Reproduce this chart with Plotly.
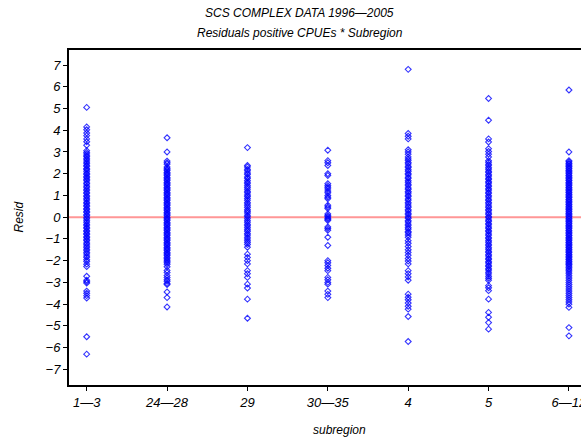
import plotly.graph_objects as go

# Subregion categories (x axis)
subregions = ["1—3", "24—28", "29", "30—35", "4", "5", "6—12"]

# Residuals of positive CPUEs for each subregion
resid_1_3 = [5.05, 4.15, 4.02, 3.87, 3.75, 3.6, 3.47, 3.31, 3.06, 2.98, 2.91, 2.83, 2.78,
             2.69, 2.63, 2.54, 2.48, 2.39, 2.34, 2.24, 2.19, 2.11, 2.02, 1.96, 1.87, 1.81,
             1.73, 1.67, 1.57, 1.53, 1.43, 1.38, 1.29, 1.23, 1.14, 1.09, 0.99, 0.94, 0.85,
             0.79, 0.69, 0.64, 0.55, 0.5, 0.4, 0.35, 0.26, 0.21, 0.11, 0.06, -0.03, -0.08,
             -0.17, -0.23, -0.32, -0.37, -0.46, -0.51, -0.61, -0.66, -0.75, -0.8, -0.9, -0.95,
             -1.04, -1.09, -1.19, -1.24, -1.33, -1.39, -1.48, -1.54, -1.63, -1.69, -1.79,
             -1.85, -1.96, -2.04, -2.16, -2.27, -2.72, -2.9, -2.97, -3.03, -3.4, -3.5, -3.61,
             -3.72, -5.5, -6.3]
resid_24_28 = [3.65, 3.0, 2.58, 2.5, 2.44, 2.31, 2.25, 2.18, 2.14, 2.06, 2.02, 1.95, 1.91,
               1.83, 1.79, 1.72, 1.68, 1.6, 1.56, 1.49, 1.45, 1.37, 1.33, 1.26, 1.22, 1.14,
               1.1, 1.03, 0.99, 0.91, 0.87, 0.8, 0.76, 0.68, 0.64, 0.57, 0.53, 0.45, 0.41,
               0.34, 0.3, 0.22, 0.18, 0.11, 0.07, -0.01, -0.05, -0.12, -0.16, -0.24, -0.28,
               -0.35, -0.39, -0.47, -0.51, -0.58, -0.62, -0.7, -0.74, -0.81, -0.85, -0.93,
               -0.97, -1.04, -1.08, -1.16, -1.2, -1.27, -1.31, -1.39, -1.43, -1.5, -1.54,
               -1.62, -1.66, -1.73, -1.77, -1.85, -1.9, -1.97, -2.03, -2.1, -2.17, -2.28,
               -2.45, -2.55, -2.68, -2.78, -2.88, -2.95, -3.05, -3.1, -3.44, -3.7, -4.13]
resid_29 = [3.2, 2.38, 2.31, 2.2, 2.13, 2.03, 1.96, 1.85, 1.79, 1.69, 1.61, 1.54, 1.44, 1.37,
            1.29, 1.19, 1.12, 1.02, 0.95, 0.86, 0.78, 0.68, 0.61, 0.52, 0.44, 0.34, 0.27, 0.19,
            0.09, 0.02, -0.07, -0.16, -0.23, -0.33, -0.4, -0.49, -0.58, -0.65, -0.75, -0.82,
            -0.92, -1.0, -1.09, -1.17, -1.26, -1.38, -1.7, -1.85, -2.0, -2.15, -2.46, -2.6,
            -2.77, -3.08, -3.26, -3.77, -4.65]
resid_30_35 = [3.08, 2.6, 2.5, 2.38, 2.0, 1.92, 1.54, 1.45, 1.38, 1.3, 1.2, 1.12, 1.0, 0.92,
               0.85, 0.55, 0.47, 0.4, 0.15, 0.08, 0.02, -0.05, -0.1, -0.15, -0.45, -0.52,
               -0.6, -0.92, -1.3, -2.0, -2.1, -2.22, -2.35, -2.46, -2.77, -2.88, -3.0, -3.08,
               -3.4, -3.55, -3.7]
resid_4 = [6.8, 3.85, 3.72, 3.6, 3.1, 3.0, 2.9, 2.77, 2.68, 2.61, 2.51, 2.45, 2.34, 2.28,
           2.18, 2.11, 2.01, 1.95, 1.84, 1.78, 1.68, 1.61, 1.51, 1.45, 1.34, 1.28, 1.18, 1.11,
           1.01, 0.95, 0.84, 0.78, 0.68, 0.61, 0.51, 0.45, 0.34, 0.28, 0.18, 0.11, 0.01, -0.05,
           -0.16, -0.22, -0.32, -0.39, -0.49, -0.55, -0.66, -0.72, -0.82, -0.92, -1.08, -1.2,
           -1.35, -1.5, -1.62, -1.75, -1.9, -2.02, -2.15, -2.46, -2.6, -2.75, -2.9, -3.54,
           -3.68, -3.8, -3.95, -4.1, -4.23, -4.57, -5.72]
resid_5 = [5.46, 4.46, 3.6, 3.46, 3.15, 3.02, 2.9, 2.77, 2.6, 2.53, 2.43, 2.37, 2.27, 2.21,
           2.11, 2.05, 1.95, 1.89, 1.79, 1.73, 1.63, 1.57, 1.47, 1.41, 1.31, 1.25, 1.15, 1.09,
           0.99, 0.93, 0.83, 0.77, 0.67, 0.61, 0.51, 0.45, 0.35, 0.29, 0.19, 0.13, 0.03, -0.03,
           -0.13, -0.19, -0.29, -0.35, -0.45, -0.51, -0.61, -0.67, -0.77, -0.83, -0.93, -0.99,
           -1.09, -1.15, -1.25, -1.31, -1.41, -1.47, -1.57, -1.63, -1.73, -1.79, -1.89, -1.95,
           -2.05, -2.11, -2.21, -2.27, -2.37, -2.43, -2.53, -2.61, -2.72, -2.81, -2.9, -3.15,
           -3.25, -3.38, -3.77, -4.38, -4.6, -4.85, -5.15]
resid_6_12 = [5.85, 3.0, 2.6, 2.55, 2.48, 2.44, 2.37, 2.33, 2.26, 2.22, 2.15, 2.11, 2.04, 2.0,
              1.93, 1.89, 1.82, 1.78, 1.71, 1.67, 1.6, 1.56, 1.49, 1.45, 1.38, 1.34, 1.27, 1.23,
              1.16, 1.12, 1.05, 1.01, 0.94, 0.9, 0.83, 0.79, 0.72, 0.68, 0.61, 0.57, 0.5, 0.46,
              0.39, 0.35, 0.28, 0.24, 0.17, 0.13, 0.06, 0.02, -0.05, -0.09, -0.16, -0.2, -0.27,
              -0.31, -0.38, -0.42, -0.49, -0.53, -0.6, -0.64, -0.71, -0.75, -0.82, -0.86, -0.93,
              -0.97, -1.04, -1.08, -1.15, -1.19, -1.26, -1.3, -1.37, -1.41, -1.48, -1.52, -1.59,
              -1.63, -1.7, -1.74, -1.81, -1.85, -1.92, -1.96, -2.03, -2.07, -2.14, -2.18, -2.25,
              -2.31, -2.38, -2.44, -2.52, -2.6, -2.7, -2.8, -2.9, -3.0, -3.1, -3.2, -3.3, -3.4,
              -3.5, -3.6, -3.7, -3.8, -3.9, -4.0, -4.15, -5.08, -5.46]

residuals = [resid_1_3, resid_24_28, resid_29, resid_30_35, resid_4, resid_5, resid_6_12]

y_ticks = list(range(-7, 8))

xs, ys = [], []
for cat, vals in zip(subregions, residuals):
    xs.extend([cat] * len(vals))
    ys.extend(vals)

FONT = "Liberation Sans"

fig = go.Figure()
fig.add_trace(go.Scatter(
    x=xs, y=ys, mode="markers",
    marker=dict(symbol="diamond-open", size=4.5, color="rgba(0,0,255,0.8)",
                line=dict(width=1.1, color="rgba(0,0,255,0.8)")),
    showlegend=False, cliponaxis=False,
))

# zero reference line
fig.add_shape(type="line", xref="paper", yref="y", x0=0, x1=1, y0=0, y1=0,
              line=dict(color="rgb(255,150,150)", width=2), layer="below")

fig.update_layout(
    width=581, height=439,
    margin=dict(l=69, r=0, t=50, b=54, autoexpand=False),
    paper_bgcolor="white", plot_bgcolor="white",
    font=dict(family=FONT, size=13, color="black", style="italic"),
    xaxis=dict(
        type="category", categoryorder="array", categoryarray=subregions,
        range=[-0.22, 6.15], automargin=False,
        showgrid=False, zeroline=False,
        showline=True, linecolor="black", linewidth=2, mirror=True,
        ticks="outside", ticklen=4, tickwidth=1, tickcolor="black",
        tickfont=dict(family=FONT, size=13, style="italic"),
    ),
    yaxis=dict(
        range=[-7.72, 7.69], tickvals=y_ticks, automargin=False,
        showgrid=False, zeroline=False,
        showline=True, linecolor="black", linewidth=2,
        ticks="outside", ticklen=4, tickwidth=1, tickcolor="black",
        tickfont=dict(family=FONT, size=13, style="italic"),
    ),
    annotations=[
        dict(text="SCS COMPLEX DATA 1996—2005", xref="paper", yref="paper",
             x=0.451, y=1.110, showarrow=False, xanchor="center", yanchor="middle",
             font=dict(family=FONT, size=12, style="italic")),
        dict(text="Residuals positive CPUEs * Subregion", xref="paper", yref="paper",
             x=0.451, y=1.0507, showarrow=False, xanchor="center", yanchor="middle",
             font=dict(family=FONT, size=12, style="italic")),
        dict(text="Resid", xref="paper", yref="paper", x=-0.0996, y=0.50,
             textangle=-90, showarrow=False, xanchor="center", yanchor="middle",
             font=dict(family=FONT, size=12, style="italic")),
        dict(text="subregion", xref="paper", yref="paper", x=0.529, y=-0.134,
             showarrow=False, xanchor="center", yanchor="middle",
             font=dict(family=FONT, size=12, style="italic")),
    ],
)

fig.write_html("out.html")
